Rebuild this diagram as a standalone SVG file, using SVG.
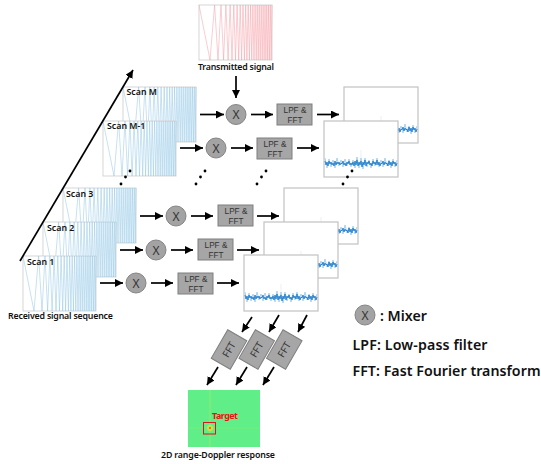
<svg xmlns="http://www.w3.org/2000/svg" xmlns:xlink="http://www.w3.org/1999/xlink" width="541" height="464" viewBox="0 0 541 464">
<style>
text{font-family:"Noto Sans","Open Sans","Liberation Sans",sans-serif;fill:#111}
.lbl{font-size:8.8px;font-weight:600}
.box{fill:#a6a6a6;stroke:#7f7f7f;stroke-width:1}
.mix{fill:#a3a3a3;stroke:#858585;stroke-width:1}
.in{font-family:"Liberation Sans",Arial,sans-serif;font-size:8.2px;fill:#333;text-anchor:middle}
.ft{font-size:10px;fill:#333;text-anchor:middle}
.x{font-size:12px;fill:#333;text-anchor:middle}
.leg{font-size:14.2px;font-weight:600}
.arr{fill:none;stroke:#000;stroke-width:1.7;marker-end:url(#ah)}
.dot{fill:#000}
.soft{filter:url(#soft)}
</style>
<defs>
<filter id="soft" x="-5%" y="-5%" width="110%" height="110%"><feGaussianBlur stdDeviation="0.3"/></filter>
<marker id="ah" markerUnits="userSpaceOnUse" markerWidth="10" markerHeight="10" refX="8" refY="4" orient="auto"><path d="M0 0L8 4L0 8Z" fill="#000"/></marker>
<polyline id="chirp" fill="none" stroke-width="0.5" points="0,0 11,55 15.6,0 19,55 22,0 24.6,55 26.9,0 29.1,55 31.1,0 33,55 34.8,0 36.5,55 38.1,0 39.7,55 41.2,0 42.6,55 44,0 45.4,55 46.7,0 47.9,55 49.2,0 50.4,55 51.6,0 52.8,55 53.9,0 55,55 56.1,0 57.2,55 58.2,0 59.2,55 60.2,0 61.2,55 62.2,0 63.2,55 64.1,0 65.1,55 66,0 66.9,55 67.8,0 68.7,55 69.6,0 70.4,55 71.3,0 72.1,55 73,0"/>
<g id="rx"><rect width="73" height="55" fill="#fff" stroke="#d2d2d2" stroke-width="0.9"/><use xlink:href="#chirp" class="soft" stroke="#8fc4e4"/></g>
<g id="plot">
<rect width="74" height="56" fill="#fff" stroke="#c2c2c2" stroke-width="1.2"/>
<path d="M37 29V42" stroke="#e4e4e4" stroke-width="0.6"/>
<polyline fill="none" stroke="#a9d2ef" stroke-width="1" points="1,37 3,47 5,38 7,46 9,39 11,47 13,37 15,45 17,39 19,46 21,38 23,45 25,38 27,46 29,39 31,47 33,36 35,47 37,37 39,48 41,37 43,46 45,39 47,47 49,38 51,45 53,37 55,46 57,39 59,46 61,37 63,45 65,39 67,47 69,38 71,46 73,39"/>
<polyline fill="none" stroke="#1f7ccb" stroke-width="0.9" points="1,40 2,44 3,41 4,45 5,40 6,43 7,41 8,44 9,42 10,45 11,40 12,44 13,41 14,43 15,41 16,44 17,42 18,43 19,40 20,44 21,42 22,45 23,41 24,43 25,40 26,44 27,42 28,44 29,41 30,45 31,40 32,44 33,39 34,45 35,41 36,44 37,40 38,46 39,41 40,44 41,39 42,45 43,41 44,43 45,40 46,44 47,42 48,45 49,40 50,43 51,41 52,44 53,39 54,44 55,41 56,45 57,42 58,43 59,40 60,44 61,41 62,43 63,42 64,45 65,40 66,44 67,41 68,45 69,40 70,43 71,41 72,45 73,42"/>
</g>
</defs>
<g id="transmitted-signal">
<rect x="199" y="5" width="73" height="55" fill="#fff" stroke="#d2d2d2" stroke-width="0.9"/>
<use xlink:href="#chirp" class="soft" x="199" y="5" stroke="#f59aa2"/>
<text class="lbl" x="198" y="70" textLength="76">Transmitted signal</text>
</g>
<g id="plot-m"><use xlink:href="#plot" x="344" y="87"/></g>
<g id="plot-m1"><use xlink:href="#plot" x="324" y="121"/></g>
<g id="plot-3"><use xlink:href="#plot" x="284" y="188"/></g>
<g id="plot-2"><use xlink:href="#plot" x="264" y="222"/></g>
<g id="plot-1"><use xlink:href="#plot" x="244" y="255"/></g>
<g id="scan-m"><use xlink:href="#rx" x="123" y="87"/><text class="lbl" x="126.500" y="95">Scan M</text></g>
<g id="scan-m1"><use xlink:href="#rx" x="103" y="121"/><text class="lbl" x="107" y="129">Scan M-1</text></g>
<g id="scan-3"><use xlink:href="#rx" x="63" y="188"/><text class="lbl" x="66" y="197">Scan 3</text></g>
<g id="scan-2"><use xlink:href="#rx" x="43" y="222"/><text class="lbl" x="47" y="231">Scan 2</text></g>
<g id="scan-1"><use xlink:href="#rx" x="23" y="256"/><text class="lbl" x="27" y="265">Scan 1</text></g>
<text id="received-label" class="lbl" x="8" y="319" textLength="105">Received signal sequence</text>
<g id="connectors">
<path class="arr" d="M20 261L133 70"/>
<path class="arr" d="M236 76V98"/>
<path class="arr" d="M200 114.500H224"/><path class="arr" d="M251 114.500H273"/><path class="arr" d="M317 114.500H339"/>
<path class="arr" d="M180 148H203"/><path class="arr" d="M231 148H253"/><path class="arr" d="M297 148H319"/>
<path class="arr" d="M140 216H163"/><path class="arr" d="M191 216H213"/><path class="arr" d="M257 216H279"/>
<path class="arr" d="M120 250H143"/><path class="arr" d="M171 250H193"/><path class="arr" d="M237 250H259"/>
<path class="arr" d="M100 283H123"/><path class="arr" d="M151 283H173"/><path class="arr" d="M217 283H239"/>
<path class="arr" d="M252 317L242 332"/><path class="arr" d="M279 315L269 332"/><path class="arr" d="M307 315L298 332"/>
<path class="arr" d="M218 367L207 385"/><path class="arr" d="M247 367L236 385"/><path class="arr" d="M274 367L263 385"/>
</g>
<g id="mixer-m"><circle class="mix" cx="236" cy="114.500" r="10"/><text class="x" x="236" y="119">X</text></g>
<g id="mixer-m1"><circle class="mix" cx="216" cy="148" r="10"/><text class="x" x="216" y="152.500">X</text></g>
<g id="mixer-3"><circle class="mix" cx="176" cy="216" r="10"/><text class="x" x="176" y="220.500">X</text></g>
<g id="mixer-2"><circle class="mix" cx="156" cy="250" r="10"/><text class="x" x="156" y="254.500">X</text></g>
<g id="mixer-1"><circle class="mix" cx="136" cy="283" r="10"/><text class="x" x="136" y="287.500">X</text></g>
<g id="lpf-m"><rect class="box" x="277" y="104" width="35" height="21"/><text class="in" x="295" y="113">LPF &amp;</text><text class="in" x="295" y="123">FFT</text></g>
<g id="lpf-m1"><rect class="box" x="257" y="138" width="35" height="21"/><text class="in" x="275" y="147">LPF &amp;</text><text class="in" x="275" y="157">FFT</text></g>
<g id="lpf-3"><rect class="box" x="218" y="205" width="35" height="21"/><text class="in" x="236" y="214">LPF &amp;</text><text class="in" x="236" y="224">FFT</text></g>
<g id="lpf-2"><rect class="box" x="198" y="239" width="35" height="21"/><text class="in" x="216" y="248">LPF &amp;</text><text class="in" x="216" y="258">FFT</text></g>
<g id="lpf-1"><rect class="box" x="178" y="273" width="35" height="21"/><text class="in" x="196" y="282">LPF &amp;</text><text class="in" x="196" y="292">FFT</text></g>
<g id="ellipsis">
<circle class="dot" cx="130" cy="171" r="1.400"/><circle class="dot" cx="125.500" cy="177" r="1.400"/><circle class="dot" cx="121" cy="184" r="1.400"/>
<circle class="dot" cx="205" cy="171" r="1.400"/><circle class="dot" cx="200.500" cy="177" r="1.400"/><circle class="dot" cx="196" cy="184" r="1.400"/>
<circle class="dot" cx="266" cy="171" r="1.400"/><circle class="dot" cx="261.500" cy="177" r="1.400"/><circle class="dot" cx="257" cy="184" r="1.400"/>
<circle class="dot" cx="352" cy="171" r="1.400"/><circle class="dot" cx="347.500" cy="177" r="1.400"/><circle class="dot" cx="343" cy="184" r="1.400"/>
</g>
<g id="fft-1" transform="translate(229 349.500) rotate(-60)"><rect class="box" x="-16.500" y="-11" width="33" height="22"/><text class="ft" y="3.500">FFT</text></g>
<g id="fft-2" transform="translate(256.700 349.500) rotate(-60)"><rect class="box" x="-16.500" y="-11" width="33" height="22"/><text class="ft" y="3.500">FFT</text></g>
<g id="fft-3" transform="translate(284.300 349.500) rotate(-60)"><rect class="box" x="-16.500" y="-11" width="33" height="22"/><text class="ft" y="3.500">FFT</text></g>
<g id="range-doppler">
<rect x="188" y="390" width="72" height="57" fill="#5fee88"/>
<path d="M210 390V447" stroke="#a5e868" stroke-width="0.8"/>
<path d="M188 428H260" stroke="#7fee78" stroke-width="0.8"/>
<circle cx="210" cy="428" r="3" fill="#d8e040"/>
<circle cx="210" cy="428" r="1.100" fill="#e2621c"/>
<rect x="203.500" y="422.500" width="12" height="11.500" fill="none" stroke="#d8141c" stroke-width="1"/>
<text x="212" y="419" font-size="9px" font-weight="700" style="fill:#f01010" textLength="26">Target</text>
<text class="lbl" x="161" y="458" textLength="114">2D range-Doppler response</text>
</g>
<g id="legend">
<circle class="mix" cx="365" cy="315" r="10"/><text class="x" x="365" y="319.500">X</text>
<text class="leg" x="380" y="321">: Mixer</text>
<text class="leg" x="352.500" y="350" textLength="135">LPF: Low-pass filter</text>
<text class="leg" x="352.500" y="376" textLength="188">FFT: Fast Fourier transform</text>
</g>
</svg>
